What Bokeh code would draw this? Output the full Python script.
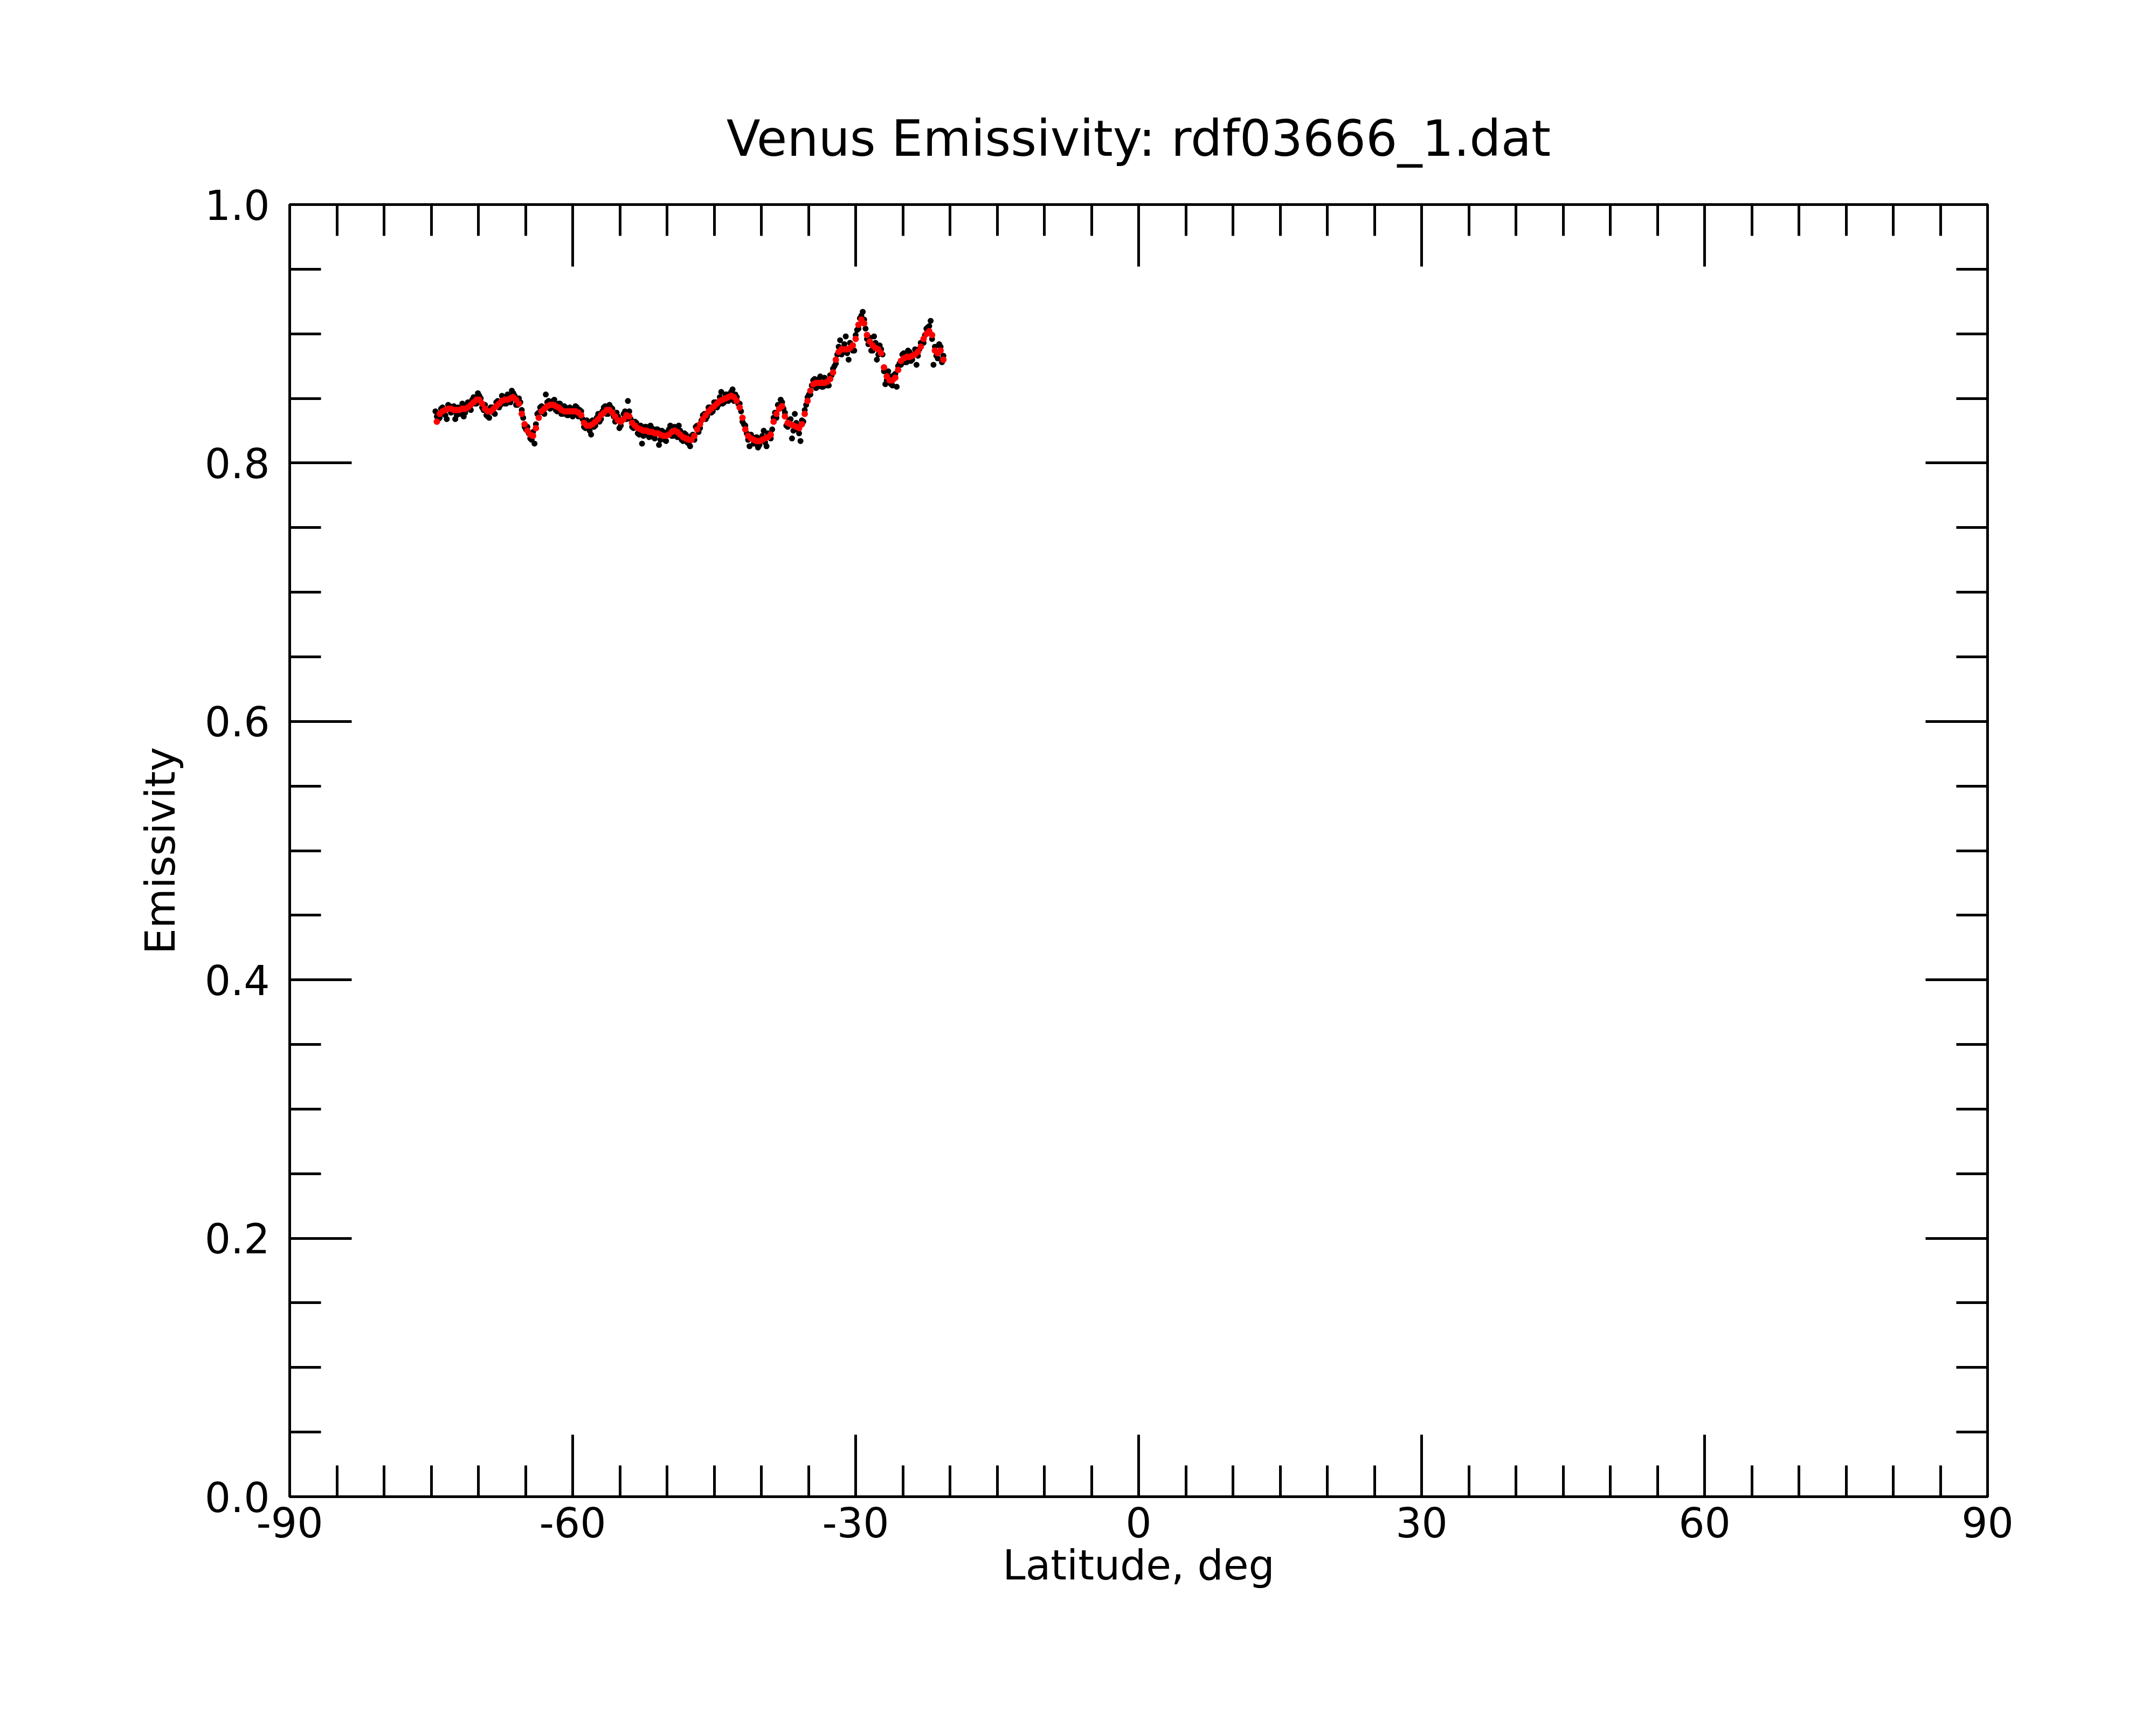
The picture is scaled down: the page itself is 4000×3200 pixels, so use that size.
from bokeh.plotting import figure
from bokeh.models import Range1d, LinearAxis, SingleIntervalTicker, CustomJSTickFormatter, NumeralTickFormatter
from bokeh.embed import file_html
from bokeh.resources import INLINE

TITLE = "Venus Emissivity: rdf03666_1.dat"
X_LABEL = "Latitude, deg"
Y_LABEL = "Emissivity"

# smoothed emissivity (red)
smooth_lat = [-74.4, -74.1, -73.8, -73.5, -73.2, -72.9, -72.6, -72.3, -72.0, -71.7,
              -71.4, -71.1, -70.8, -70.5, -70.2, -69.9, -69.6, -69.3, -69.0, -68.7,
              -68.4, -68.1, -67.8, -67.5, -67.2, -66.9, -66.6, -66.3, -66.0, -65.7,
              -65.4, -65.1, -64.8, -64.5, -64.2, -63.9, -63.6, -63.3, -63.0, -62.7,
              -62.4, -62.1, -61.8, -61.5, -61.2, -60.9, -60.6, -60.3, -60.0, -59.7,
              -59.4, -59.1, -58.8, -58.5, -58.2, -57.9, -57.6, -57.3, -57.0, -56.7,
              -56.4, -56.1, -55.8, -55.5, -55.2, -54.9, -54.6, -54.3, -54.0, -53.7,
              -53.4, -53.1, -52.8, -52.5, -52.2, -51.9, -51.6, -51.3, -51.0, -50.7,
              -50.4, -50.1, -49.8, -49.5, -49.2, -48.9, -48.6, -48.3, -48.0, -47.7,
              -47.4, -47.1, -46.8, -46.5, -46.2, -45.9, -45.6, -45.3, -45.0, -44.7,
              -44.4, -44.1, -43.8, -43.5, -43.2, -42.9, -42.6, -42.3, -42.0, -41.7,
              -41.4, -41.1, -40.8, -40.5, -40.2, -39.9, -39.6, -39.3, -39.0, -38.7,
              -38.4, -38.1, -37.8, -37.5, -37.2, -36.9, -36.6, -36.3, -36.0, -35.7,
              -35.4, -35.1, -34.8, -34.5, -34.2, -33.9, -33.6, -33.3, -33.0, -32.7,
              -32.4, -32.1, -31.8, -31.5, -31.2, -30.9, -30.6, -30.3, -30.0, -29.7,
              -29.4, -29.1, -28.8, -28.5, -28.2, -27.9, -27.6, -27.3, -27.0, -26.7,
              -26.4, -26.1, -25.8, -25.5, -25.2, -24.9, -24.6, -24.3, -24.0, -23.7,
              -23.4, -23.1, -22.8, -22.5, -22.2, -21.9, -21.6, -21.3, -21.0, -20.7]
smooth_emis = [0.832, 0.838, 0.840, 0.841, 0.842, 0.842, 0.841, 0.841, 0.841, 0.842,
               0.842, 0.843, 0.845, 0.847, 0.849, 0.849, 0.846, 0.842, 0.840, 0.840,
               0.842, 0.844, 0.846, 0.848, 0.849, 0.849, 0.850, 0.851, 0.849, 0.846,
               0.838, 0.830, 0.825, 0.822, 0.821, 0.827, 0.835, 0.840, 0.842, 0.844,
               0.845, 0.845, 0.844, 0.843, 0.841, 0.840, 0.840, 0.840, 0.840, 0.840,
               0.839, 0.837, 0.831, 0.829, 0.829, 0.830, 0.832, 0.834, 0.837, 0.839,
               0.841, 0.841, 0.839, 0.836, 0.833, 0.832, 0.834, 0.837, 0.836, 0.831,
               0.829, 0.827, 0.826, 0.825, 0.825, 0.824, 0.824, 0.823, 0.823, 0.822,
               0.821, 0.821, 0.822, 0.824, 0.825, 0.824, 0.822, 0.820, 0.819, 0.818,
               0.818, 0.821, 0.826, 0.830, 0.834, 0.837, 0.840, 0.842, 0.844, 0.846,
               0.848, 0.849, 0.850, 0.851, 0.852, 0.851, 0.848, 0.843, 0.835, 0.826,
               0.821, 0.819, 0.818, 0.817, 0.817, 0.818, 0.819, 0.820, 0.822, 0.832,
               0.838, 0.842, 0.844, 0.836, 0.831, 0.830, 0.829, 0.828, 0.827, 0.830,
               0.838, 0.848, 0.856, 0.861, 0.862, 0.862, 0.862, 0.862, 0.863, 0.865,
               0.870, 0.880, 0.886, 0.888, 0.888, 0.888, 0.889, 0.891, 0.896, 0.907,
               0.911, 0.908, 0.899, 0.894, 0.891, 0.889, 0.888, 0.885, 0.874, 0.867,
               0.864, 0.864, 0.866, 0.872, 0.879, 0.881, 0.882, 0.882, 0.883, 0.884,
               0.886, 0.890, 0.896, 0.900, 0.902, 0.899, 0.887, 0.885, 0.887, 0.880]

# raw emissivity (black), first set of samples
raw_lat = [-74.55, -74.25, -73.95, -73.65, -73.35, -73.05, -72.75, -72.45, -72.15, -71.85,
           -71.55, -71.25, -70.95, -70.65, -70.35, -70.05, -69.75, -69.45, -69.15, -68.85,
           -68.55, -68.25, -67.95, -67.65, -67.35, -67.05, -66.75, -66.45, -66.15, -65.85,
           -65.55, -65.25, -64.95, -64.65, -64.35, -64.05, -63.75, -63.45, -63.15, -62.85,
           -62.55, -62.25, -61.95, -61.65, -61.35, -61.05, -60.75, -60.45, -60.15, -59.85,
           -59.55, -59.25, -58.95, -58.65, -58.35, -58.05, -57.75, -57.45, -57.15, -56.85,
           -56.55, -56.25, -55.95, -55.65, -55.35, -55.05, -54.75, -54.45, -54.15, -53.85,
           -53.55, -53.25, -52.95, -52.65, -52.35, -52.05, -51.75, -51.45, -51.15, -50.85,
           -50.55, -50.25, -49.95, -49.65, -49.35, -49.05, -48.75, -48.45, -48.15, -47.85,
           -47.55, -47.25, -46.95, -46.65, -46.35, -46.05, -45.75, -45.45, -45.15, -44.85,
           -44.55, -44.25, -43.95, -43.65, -43.35, -43.05, -42.75, -42.45, -42.15, -41.85,
           -41.55, -41.25, -40.95, -40.65, -40.35, -40.05, -39.75, -39.45, -39.15, -38.85,
           -38.55, -38.25, -37.95, -37.65, -37.35, -37.05, -36.75, -36.45, -36.15, -35.85,
           -35.55, -35.25, -34.95, -34.65, -34.35, -34.05, -33.75, -33.45, -33.15, -32.85,
           -32.55, -32.25, -31.95, -31.65, -31.35, -31.05, -30.75, -30.45, -30.15, -29.85,
           -29.55, -29.25, -28.95, -28.65, -28.35, -28.05, -27.75, -27.45, -27.15, -26.85,
           -26.55, -26.25, -25.95, -25.65, -25.35, -25.05, -24.75, -24.45, -24.15, -23.85,
           -23.55, -23.25, -22.95, -22.65, -22.35, -22.05, -21.75, -21.45, -21.15, -20.85]
raw_emis = [0.840, 0.834, 0.842, 0.838, 0.834, 0.844, 0.840, 0.834, 0.843, 0.840,
            0.836, 0.845, 0.842, 0.849, 0.846, 0.854, 0.850, 0.841, 0.837, 0.835,
            0.843, 0.838, 0.848, 0.845, 0.851, 0.846, 0.848, 0.856, 0.852, 0.845,
            0.847, 0.835, 0.826, 0.823, 0.818, 0.815, 0.838, 0.843, 0.839, 0.853,
            0.848, 0.843, 0.849, 0.840, 0.846, 0.838, 0.843, 0.837, 0.842, 0.838,
            0.843, 0.841, 0.834, 0.827, 0.832, 0.822, 0.828, 0.835, 0.832, 0.840,
            0.844, 0.838, 0.843, 0.836, 0.839, 0.827, 0.833, 0.840, 0.848, 0.834,
            0.827, 0.831, 0.822, 0.815, 0.828, 0.822, 0.829, 0.820, 0.826, 0.814,
            0.825, 0.818, 0.824, 0.829, 0.821, 0.827, 0.829, 0.818, 0.823, 0.816,
            0.813, 0.822, 0.828, 0.824, 0.833, 0.838, 0.836, 0.843, 0.840, 0.847,
            0.845, 0.855, 0.847, 0.853, 0.849, 0.857, 0.853, 0.846, 0.840, 0.830,
            0.823, 0.813, 0.820, 0.815, 0.812, 0.819, 0.825, 0.813, 0.822, 0.826,
            0.839, 0.845, 0.849, 0.842, 0.829, 0.833, 0.819, 0.838, 0.826, 0.817,
            0.832, 0.845, 0.853, 0.860, 0.865, 0.859, 0.867, 0.859, 0.864, 0.860,
            0.868, 0.875, 0.884, 0.895, 0.886, 0.898, 0.880, 0.890, 0.887, 0.903,
            0.912, 0.917, 0.904, 0.892, 0.887, 0.898, 0.880, 0.891, 0.884, 0.861,
            0.871, 0.861, 0.868, 0.859, 0.877, 0.884, 0.878, 0.887, 0.879, 0.884,
            0.876, 0.888, 0.893, 0.899, 0.905, 0.910, 0.876, 0.883, 0.892, 0.878]

# raw emissivity (black), second set of samples (at the smoothed latitudes)
raw2_emis = [0.836, 0.835, 0.843, 0.837, 0.845, 0.839, 0.844, 0.837, 0.838, 0.846,
             0.839, 0.847, 0.841, 0.851, 0.846, 0.852, 0.843, 0.845, 0.836, 0.843,
             0.839, 0.847, 0.843, 0.852, 0.846, 0.853, 0.847, 0.854, 0.845, 0.850,
             0.841, 0.828, 0.828, 0.819, 0.824, 0.830, 0.839, 0.844, 0.838, 0.847,
             0.842, 0.848, 0.841, 0.846, 0.838, 0.844, 0.837, 0.843, 0.836, 0.844,
             0.836, 0.840, 0.828, 0.833, 0.825, 0.833, 0.829, 0.838, 0.834, 0.843,
             0.838, 0.845, 0.842, 0.832, 0.836, 0.829, 0.838, 0.834, 0.840, 0.828,
             0.832, 0.823, 0.829, 0.821, 0.828, 0.820, 0.827, 0.819, 0.826, 0.818,
             0.824, 0.817, 0.826, 0.821, 0.828, 0.820, 0.825, 0.817, 0.822, 0.815,
             0.821, 0.818, 0.829, 0.827, 0.837, 0.834, 0.843, 0.839, 0.847, 0.843,
             0.851, 0.846, 0.853, 0.848, 0.855, 0.848, 0.851, 0.846, 0.832, 0.829,
             0.818, 0.822, 0.815, 0.820, 0.814, 0.821, 0.816, 0.823, 0.819, 0.835,
             0.835, 0.845, 0.847, 0.839, 0.828, 0.834, 0.825, 0.831, 0.823, 0.833,
             0.841, 0.851, 0.853, 0.864, 0.858, 0.865, 0.859, 0.866, 0.860, 0.868,
             0.873, 0.877, 0.890, 0.884, 0.892, 0.885, 0.893, 0.887, 0.899, 0.904,
             0.914, 0.911, 0.896, 0.897, 0.887, 0.893, 0.884, 0.888, 0.871, 0.864,
             0.867, 0.860, 0.869, 0.875, 0.876, 0.885, 0.878, 0.886, 0.880, 0.888,
             0.883, 0.893, 0.893, 0.904, 0.906, 0.896, 0.890, 0.881, 0.890, 0.883]

FONT = "DejaVu Sans"

p = figure(x_range=Range1d(-90, 90), y_range=Range1d(0, 1),
           frame_width=3150, frame_height=2397,
           min_border_left=537, min_border_right=297,
           min_border_top=379, min_border_bottom=408,
           output_backend="svg", toolbar_location=None, tools="")

p.title.text = TITLE
p.title.align = "center"
p.title.text_font = FONT
p.title.text_font_size = "92px"
p.title.text_font_style = "normal"
p.title.text_color = "black"
p.title.standoff = 138

p.grid.visible = False
p.outline_line_color = "black"
p.outline_line_width = 5
p.background_fill_color = "white"
p.border_fill_color = "white"

xt = SingleIntervalTicker(interval=30, num_minor_ticks=6)
yt = SingleIntervalTicker(interval=0.2, num_minor_ticks=4)

def style(ax):
    ax.axis_line_color = None
    ax.major_tick_in = 115
    ax.major_tick_out = 0
    ax.minor_tick_in = 58
    ax.minor_tick_out = 0
    ax.major_tick_line_width = 5
    ax.minor_tick_line_width = 5
    ax.major_tick_line_color = "black"
    ax.minor_tick_line_color = "black"
    ax.major_label_text_font = FONT
    ax.major_label_text_font_size = "76px"
    ax.major_label_text_color = "black"
    ax.axis_label_text_font = FONT
    ax.axis_label_text_font_size = "76px"
    ax.axis_label_text_font_style = "normal"
    ax.axis_label_text_color = "black"

xa = p.xaxis[0]
xa.ticker = xt
xa.formatter = NumeralTickFormatter(format="0")
xa.axis_label = X_LABEL
style(xa)
xa.major_label_standoff = 19
xa.axis_label_standoff = 4

ya = p.yaxis[0]
ya.ticker = yt
ya.formatter = NumeralTickFormatter(format="0.0")
ya.axis_label = Y_LABEL
style(ya)
ya.major_label_standoff = 37
ya.axis_label_standoff = 35

empty = CustomJSTickFormatter(code="return ''")
top = LinearAxis(ticker=xt, formatter=empty)
style(top)
top.major_label_standoff = 0
top.major_label_text_font_size = "0px"
p.add_layout(top, "above")

right = LinearAxis(ticker=yt, formatter=empty)
style(right)
right.major_label_standoff = 0
right.major_label_text_font_size = "0px"
p.add_layout(right, "right")

p.scatter(raw_lat, raw_emis, size=11, color="black", line_color=None)
p.scatter(smooth_lat, raw2_emis, size=11, color="black", line_color=None)
p.scatter(smooth_lat, smooth_emis, size=12, color="red", line_color=None)

open("out.html", "w").write(file_html(p, INLINE))
